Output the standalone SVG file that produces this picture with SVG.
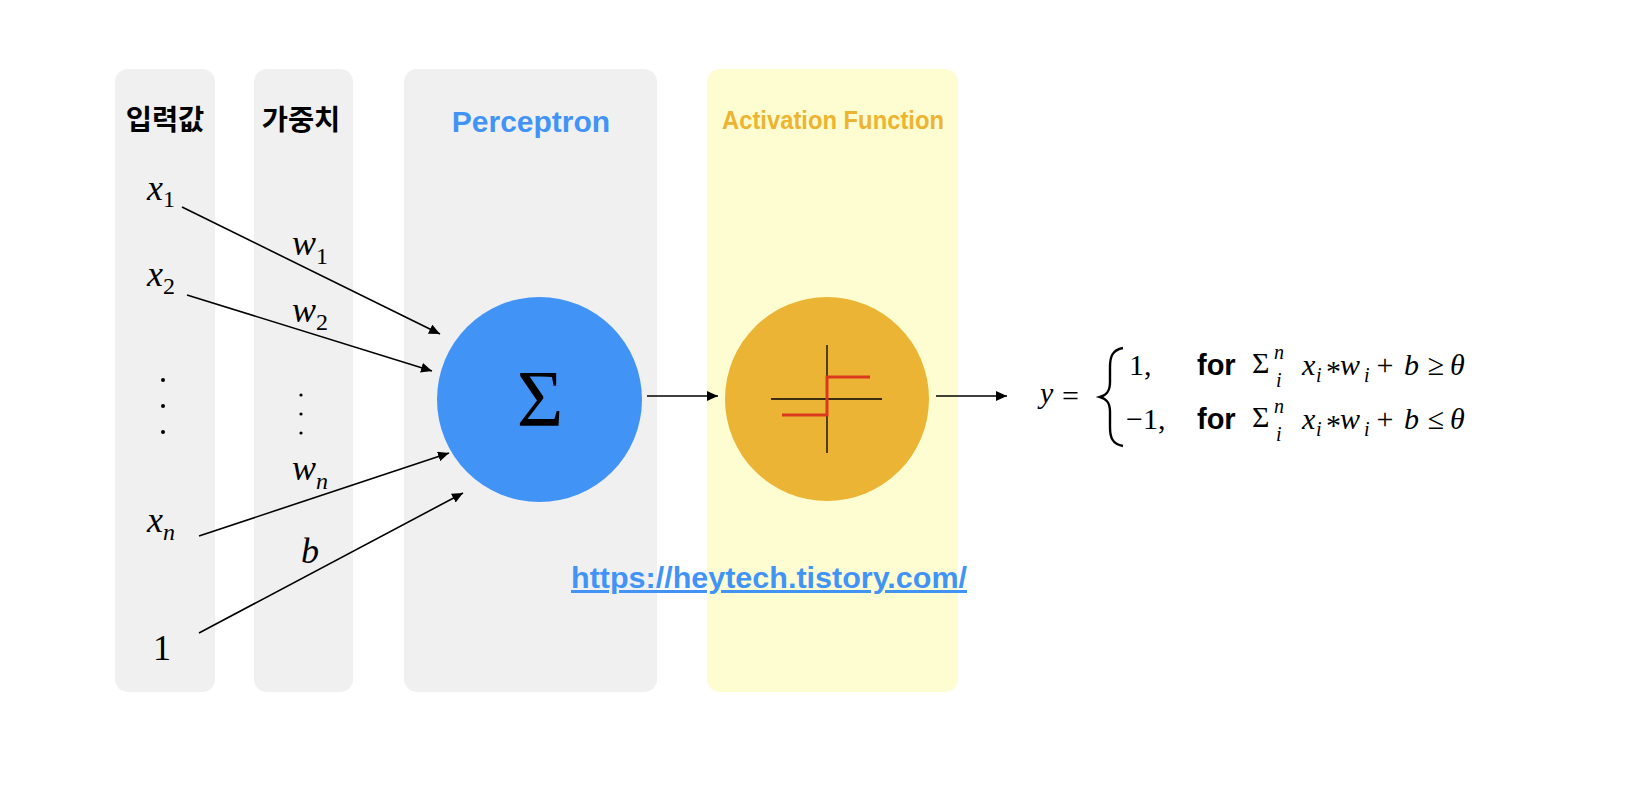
<svg xmlns="http://www.w3.org/2000/svg" width="1632" height="796" viewBox="0 0 1632 796">
<style>
.col{fill:#f0f0f0}
.ycol{fill:#fefdd2}
.kr{font-family:"Noto Sans CJK KR","Noto Sans",sans-serif;font-weight:700;font-size:28.5px;fill:#000;text-anchor:middle}
.hd{font-family:"Liberation Sans",Arial,sans-serif;font-weight:700}
.m{font-family:"Liberation Serif","Times New Roman",serif;font-style:italic;font-size:36px;fill:#000}
.ms{font-style:italic;font-size:24px}
.rs{font-style:normal;font-size:24px}
.r{font-family:"Liberation Serif","Times New Roman",serif;font-size:36px;fill:#000}
.f{font-family:"Liberation Serif","Times New Roman",serif;font-style:italic;font-size:30px;fill:#000}
.fr{font-family:"Liberation Serif","Times New Roman",serif;font-size:30px;fill:#000}
.fs{font-family:"Liberation Serif","Times New Roman",serif;font-style:italic;font-size:20px;fill:#000}
.fb{font-family:"Liberation Sans",Arial,sans-serif;font-weight:700;font-size:29px;fill:#000}
.edge{stroke:#000;stroke-width:1.6;fill:none;marker-end:url(#ah)}
.dot{fill:#000}
</style>
<defs>
<marker id="ah" markerUnits="userSpaceOnUse" markerWidth="12" markerHeight="10" refX="11" refY="5" orient="auto">
<path d="M0,0 L11,5 L0,10 Z" fill="#000"/>
</marker>
</defs>
<rect width="1632" height="796" fill="#fff"/>

<g id="col-input">
<rect class="col" x="115" y="69" width="100" height="623" rx="13"/>
<text class="kr" x="165" y="130">입력값</text>
<text class="m" x="147" y="200">x<tspan class="rs" dy="7">1</tspan></text>
<text class="m" x="147" y="286">x<tspan class="rs" dy="8">2</tspan></text>
<circle class="dot" cx="163" cy="380" r="2"/>
<circle class="dot" cx="163" cy="406" r="2"/>
<circle class="dot" cx="163" cy="432" r="2"/>
<text class="m" x="147" y="532">x<tspan class="ms" dy="8">n</tspan></text>
<text class="r" x="162" y="660" text-anchor="middle">1</text>
</g>

<g id="col-weight">
<rect class="col" x="254" y="69" width="99" height="623" rx="13"/>
<text class="kr" x="301" y="130">가중치</text>
<text class="m" x="292" y="255">w<tspan class="rs" dy="9">1</tspan></text>
<text class="m" x="292" y="322">w<tspan class="rs" dy="8">2</tspan></text>
<circle class="dot" cx="301" cy="395" r="1.6"/>
<circle class="dot" cx="301" cy="414" r="1.6"/>
<circle class="dot" cx="301" cy="433" r="1.6"/>
<text class="m" x="292" y="480">w<tspan class="ms" dy="9">n</tspan></text>
<text class="m" x="301" y="563">b</text>
</g>

<g id="col-perceptron">
<rect class="col" x="404" y="69" width="253" height="623" rx="13"/>
<text class="hd" x="531" y="132" font-size="30" fill="#4194f6" text-anchor="middle">Perceptron</text>
</g>

<g id="col-activation">
<rect class="ycol" x="707" y="69" width="251" height="623" rx="13"/>
<text class="hd" x="833" y="129" font-size="25" fill="#ecb431" text-anchor="middle" textLength="222" lengthAdjust="spacingAndGlyphs">Activation Function</text>
</g>

<g id="node-sum">
<circle cx="539.5" cy="399.5" r="102.5" fill="#4194f6"/>
<text x="540" y="426" font-family="Liberation Serif,'Times New Roman',serif" font-size="80" text-anchor="middle" fill="#000">Σ</text>
</g>

<g id="node-activation">
<circle cx="827" cy="399" r="102" fill="#ecb434"/>
<line x1="827" y1="345" x2="827" y2="453" stroke="#000" stroke-width="1.3"/>
<line x1="771" y1="399" x2="882" y2="399" stroke="#000" stroke-width="1.3"/>
<polyline points="782,415 827,415 827,377 870,377" fill="none" stroke="#d9391f" stroke-width="3"/>
</g>

<g id="connectors">
<line class="edge" x1="182" y1="207" x2="440" y2="334"/>
<line class="edge" x1="187" y1="295" x2="432" y2="371"/>
<line class="edge" x1="199" y1="536" x2="449" y2="453"/>
<line class="edge" x1="199" y1="633" x2="463" y2="493"/>
<line class="edge" x1="647" y1="396" x2="718" y2="396"/>
<line class="edge" x1="936" y1="396" x2="1007" y2="396"/>
</g>

<g id="link">
<text class="hd" x="571" y="588" font-size="30" fill="#4194f6" text-decoration="underline" textLength="396" lengthAdjust="spacingAndGlyphs">https://heytech.tistory.com/</text>
</g>

<g id="formula">
<text class="f" x="1040" y="403">y</text>
<text class="fr" x="1062" y="406" font-size="34">=</text>
<path d="M1123,348 C1112,350 1110,357 1110,367 L1110,382 C1110,391 1107,395 1100,397 C1107,399 1110,403 1110,412 L1110,427 C1110,437 1112,444 1123,446" fill="none" stroke="#000" stroke-width="2.4"/>
<text class="fr" x="1129" y="375">1,</text>
<text class="fb" x="1197" y="375">for</text>
<text class="fr" x="1252" y="373" font-size="28">Σ</text>
<text class="fs" x="1274" y="359">n</text>
<text class="fs" x="1276" y="387">i</text>
<text class="f" x="1302" y="375">x</text><text class="fs" x="1316" y="382">i</text>
<text class="fr" x="1326" y="381">*</text>
<text class="f" x="1340" y="375">w</text><text class="fs" x="1364" y="382">i</text>
<text class="fr" x="1385" y="375" font-size="34" text-anchor="middle">+</text>
<text class="f" x="1404" y="375">b</text>
<text class="fr" x="1436" y="375" text-anchor="middle">≥</text>
<text class="f" x="1450" y="375">θ</text>

<text class="fr" x="1126" y="429">−1,</text>
<text class="fb" x="1197" y="429">for</text>
<text class="fr" x="1252" y="427" font-size="28">Σ</text>
<text class="fs" x="1274" y="413">n</text>
<text class="fs" x="1276" y="441">i</text>
<text class="f" x="1302" y="429">x</text><text class="fs" x="1316" y="436">i</text>
<text class="fr" x="1326" y="435">*</text>
<text class="f" x="1340" y="429">w</text><text class="fs" x="1364" y="436">i</text>
<text class="fr" x="1385" y="429" font-size="34" text-anchor="middle">+</text>
<text class="f" x="1404" y="429">b</text>
<text class="fr" x="1436" y="429" text-anchor="middle">≤</text>
<text class="f" x="1450" y="429">θ</text>
</g>
</svg>
